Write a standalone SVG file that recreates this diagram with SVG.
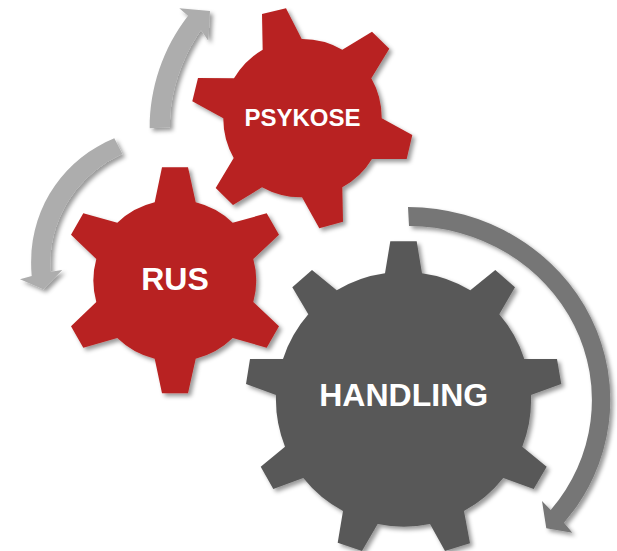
<svg xmlns="http://www.w3.org/2000/svg" width="617" height="551" viewBox="0 0 617 551">
<style>
.shadow{filter:url(#ds)}
.red{fill:#b82220}
.dark{fill:#595959}
.lbl{font-family:"Liberation Sans",Arial,sans-serif;font-weight:700;fill:#fff;text-anchor:middle}
</style>
<defs>
<filter id="ds" x="-15%" y="-15%" width="130%" height="130%"><feDropShadow dx="3" dy="3" stdDeviation="2.2" flood-color="#000" flood-opacity="0.4"/></filter>
</defs>
<rect width="617" height="551" fill="#fff"/>
<g id="connectors">
<path class="shadow" fill="#adadad" d="M149.7 128.3C149.5 88 163 48 188 15.7L179.3 8.3L210 11L208.3 40.7L201 30C182 58 169.5 92 170 127.3Z"/>
<path class="shadow" fill="#adadad" d="M114.3 138.3C62 160 26 212 31.7 276L20 279.3L43.3 289.3L62.3 270L50.7 271.7C47 222 76 175 122.3 154Z"/>
<path class="shadow" fill="#767676" d="M408 207A203 193 0 0 1 564 522.7L572.3 532.7L546.3 528.3L542 501L550.7 510A183 174 0 0 0 409 226Z"/>
</g>
<g id="node-psykose">
<path class="red shadow" d="M262 14L286 8.3L301.7 39A80 80 0 0 1 342.3 49.7L372 31.7L389.3 48.7L371.3 78.3A80 80 0 0 1 381.7 118.3L412.3 135L406.7 159L372 159A80 80 0 0 1 342.3 187.3L343 221.7L319.3 228.3L302 197.3A80 80 0 0 1 262 187.3L233 205L215.7 188L233.7 158A80 80 0 0 1 223.3 118.3L192.3 101.3L198 78L234 78.3A80 80 0 0 1 262.7 49.7Z"/>
<text class="lbl" x="302.5" y="126" font-size="24">PSYKOSE</text>
</g>
<g id="node-rus">
<path class="red shadow" d="M162 167.3L188 167.3L195.7 202.3A81 81 0 0 1 232.7 222.7L266.7 213.3L279 234.7L253.3 259A81 81 0 0 1 253.3 302L279 326.3L266.7 347.7L232.7 338A81 81 0 0 1 195.7 358.7L188 393.3L162 393.3L154.7 358.7A81 81 0 0 1 117.3 338L83.3 347.7L71 326.3L96.3 302A81 81 0 0 1 96.3 259L71 234.7L83.3 213.3L117.3 222.7A81 81 0 0 1 154.7 202.3Z"/>
<text class="lbl" x="175" y="290" font-size="32">RUS</text>
</g>
<g id="node-handling">
<path class="dark shadow" d="M390.3 241.3L416.7 241.3L422 273.3A127.5 127.5 0 0 1 470.3 290.3L495.3 270L515 287.3L499.3 314.3A127.5 127.5 0 0 1 524.3 359L557 359L561.3 384L531 395A127.5 127.5 0 0 1 522.3 446.7L546.7 466.7L533.7 489L503.3 478A127.5 127.5 0 0 1 464 511L470 543.3L445 551L430 524A127.5 127.5 0 0 1 377.7 524L362 551L337.7 542.7L343 511A127.5 127.5 0 0 1 303.3 478L273.3 489L260.7 466.7L285 446.7A127.5 127.5 0 0 1 276 395L246 384L250 359L283 359A127.5 127.5 0 0 1 308.3 314.3L292.3 287.3L312 270L336.7 290.3A127.5 127.5 0 0 1 385 273.3Z"/>
<text class="lbl" x="403.7" y="405.5" font-size="32">HANDLING</text>
</g>
</svg>
